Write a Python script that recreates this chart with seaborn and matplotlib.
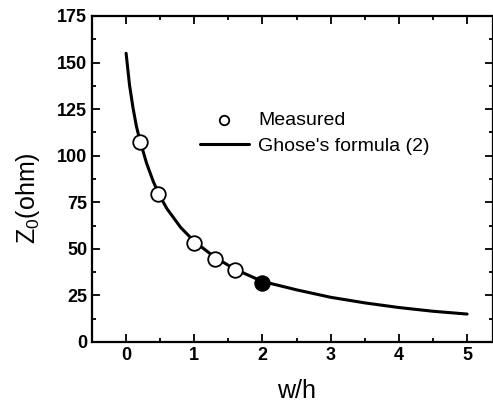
import matplotlib
matplotlib.use("Agg")
import matplotlib.pyplot as plt
import seaborn as sns
import pandas as pd
from matplotlib.ticker import MultipleLocator

# Data
meas_wh = [0.2, 0.47, 1.0, 1.3, 1.6]
meas_z = [107.5, 79.5, 53.0, 44.8, 38.7]
filled_wh = [2.0]
filled_z = [31.5]
curve_wh = [0.0, 0.05, 0.1, 0.15, 0.2, 0.3, 0.4, 0.5, 0.6, 0.8, 1.0, 1.3, 1.6, 2.0, 2.5, 3.0, 3.5, 4.0, 4.5, 5.0]
curve_z = [155, 138, 126, 116, 108.5, 96, 86, 78, 71.5, 61.5, 54, 45.5, 39, 32.5, 28, 24, 21, 18.5, 16.5, 15]

sns.set_style("ticks")
plt.rcParams['font.family'] = ['Liberation Sans', 'DejaVu Sans']
plt.rcParams['mathtext.fontset'] = 'custom'
plt.rcParams['mathtext.rm'] = 'Liberation Sans'
plt.rcParams['mathtext.it'] = 'Liberation Sans'
plt.rcParams['text.color'] = 'black'
plt.rcParams['axes.labelcolor'] = 'black'
plt.rcParams['xtick.color'] = 'black'
plt.rcParams['ytick.color'] = 'black'
plt.rcParams['axes.edgecolor'] = 'black'

fig = plt.figure(figsize=(4.93, 4.09), dpi=100)
ax = fig.add_axes([92/493, 1 - 342/409, 401/493, 326/409])

curve = pd.DataFrame({"w/h": curve_wh, "Z0": curve_z})
meas = pd.DataFrame({"w/h": meas_wh, "Z0": meas_z})
filled = pd.DataFrame({"w/h": filled_wh, "Z0": filled_z})

sns.lineplot(data=curve, x="w/h", y="Z0", ax=ax, color="black", linewidth=2.2,
             label="Ghose's formula (2)", zorder=2)
sns.scatterplot(data=meas, x="w/h", y="Z0", ax=ax, marker="o", s=110,
                facecolor="white", edgecolor="black", linewidth=1.3,
                label="Measured", zorder=3)
sns.scatterplot(data=filled, x="w/h", y="Z0", ax=ax, marker="o", s=120,
                color="black", edgecolor="black", zorder=4, legend=False)

ax.set_xlim(-0.5, 5.38)
ax.set_ylim(0, 175)
ax.xaxis.set_major_locator(MultipleLocator(1))
ax.xaxis.set_minor_locator(MultipleLocator(0.5))
ax.yaxis.set_major_locator(MultipleLocator(25))
ax.yaxis.set_minor_locator(MultipleLocator(12.5))
ax.tick_params(which="both", direction="in", top=True, right=True, width=1.3, colors="black")
ax.tick_params(which="major", length=6, labelsize=13)
ax.tick_params(which="minor", length=3)
for lab in ax.get_xticklabels() + ax.get_yticklabels():
    lab.set_fontweight("bold")
for s in ax.spines.values():
    s.set_linewidth(1.6)
    s.set_color("black")
    s.set_visible(True)

ax.set_xlabel("w/h", fontsize=18, color="black")
ax.set_ylabel("Z$_0$(ohm)", fontsize=18, color="black")
ax.xaxis.set_label_coords(0.509, -0.115)
ax.yaxis.set_label_coords(-0.125, 0.44)

handles, labels = ax.get_legend_handles_labels()
order = [labels.index("Measured"), labels.index("Ghose's formula (2)")]
leg = ax.legend([handles[i] for i in order], [labels[i] for i in order],
                loc="upper left", bbox_to_anchor=((200-92)/401, (342-111)/326),
                frameon=False, fontsize=14, handlelength=2.5, handletextpad=0.5,
                labelspacing=0.45, borderpad=0, borderaxespad=0, markerscale=0.65)
for t in leg.get_texts():
    t.set_color("black")

fig.savefig("out.png", dpi=100)
